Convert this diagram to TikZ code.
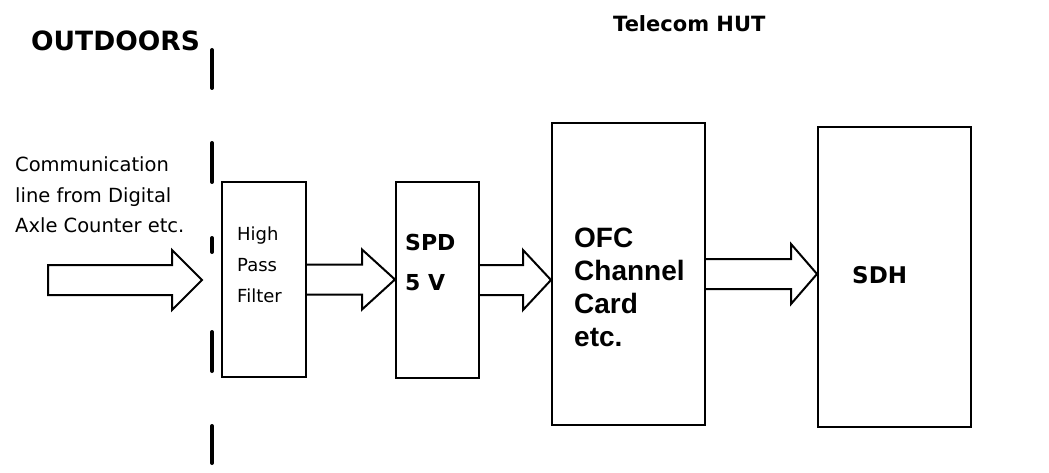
\documentclass[tikz,border=0pt]{standalone}
\usepackage{fontspec}
\setmainfont{DejaVu Sans}
\newfontfamily\cardfont{Liberation Sans}
\usetikzlibrary{calc}

\tikzset{
  blk/.style={draw, line width=2pt, inner sep=0pt},
  blockarr/.style={draw, line width=2pt, line join=miter, fill=white},
  cutline/.style={line width=4pt, line cap=round},
  plaintext/.style={anchor=base west, inner sep=0pt, align=left,
    font=\fontsize{19.5}{30.5}\selectfont},
  headtext/.style={anchor=base west, inner sep=0pt, font=\bfseries\fontsize{26.5}{26.5}\selectfont},
}

% block arrow from a box edge to the next box, tip at the height of the source
\newcommand{\blockarrow}[3]{%
  \draw[blockarr] ($(#1)+(0,-15)$) -- ($(#2 |- #1)+(-#3,-15)$)
    -- ($(#2 |- #1)+(-#3,-30)$) -- (#2 |- #1) -- ($(#2 |- #1)+(-#3,30)$)
    -- ($(#2 |- #1)+(-#3,15)$) -- ($(#1)+(0,15)$);}

\begin{document}
\begin{tikzpicture}[x=1pt, y=-1pt]
  \useasboundingbox (0,0) rectangle (1049,473);
  % headings
  \node[headtext] (outdoors) at (31,51) {OUTDOORS};
  \node[headtext, font=\bfseries\fontsize{21}{21}\selectfont] (hut) at (613,32) {Telecom HUT};
  % boundary between outdoors and hut
  \foreach \ya/\yb in {50/88, 143/182, 238/252, 332/371, 426/463}
    \draw[cutline] (212,\ya) -- (212,\yb);
  % boxes
  \node[blk, minimum width=84pt, minimum height=195pt] (hpf) at (264,279.5) {};
  \node[blk, minimum width=83pt, minimum height=196pt] (spd) at (437.5,280) {};
  \node[blk, minimum width=153pt, minimum height=302pt] (ofc) at (628.5,274) {};
  \node[blk, minimum width=153pt, minimum height=300pt] (sdh) at (894.5,277) {};
  % box texts (base = last line)
  \node[plaintext, font=\fontsize{18}{31}\selectfont] (hpfText) at (237,302) {High\\Pass\\Filter};
  \node[plaintext, font=\bfseries\fontsize{22}{40}\selectfont] (spdText) at (405,290) {SPD\\5 V};
  \node[plaintext, font=\cardfont\bfseries\fontsize{28}{33}\selectfont] (ofcText) at (574,346)
    {OFC\\Channel\\Card\\etc.};
  \node[headtext, font=\bfseries\fontsize{23}{23}\selectfont] (sdhText) at (852,283) {SDH};
  % incoming line
  \node[plaintext] (lineText) at (15,233) {Communication\\line from Digital\\Axle Counter etc.};
  \coordinate (inStart) at (48,280);
  \coordinate (inTip) at (202,280);
  \draw[blockarr] ($(inStart)+(0,-15)$) -- ($(inTip)+(-30,-15)$) -- ($(inTip)+(-30,-30)$)
    -- (inTip) -- ($(inTip)+(-30,30)$) -- ($(inTip)+(-30,15)$) -- ($(inStart)+(0,15)$) -- cycle;
  % arrows between boxes
  \blockarrow{hpf.east}{spd.west}{33}
  \blockarrow{spd.east}{ofc.west}{28}
  \blockarrow{ofc.east}{sdh.west}{26}
\end{tikzpicture}
\end{document}
